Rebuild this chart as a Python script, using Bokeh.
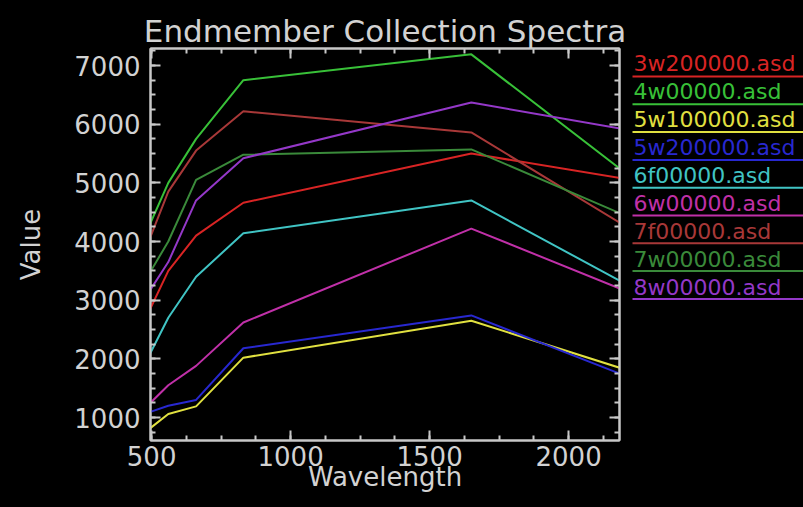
from bokeh.plotting import figure
from bokeh.models import Range1d, LinearAxis, SingleIntervalTicker, CustomJSTickFormatter
from bokeh.layouts import row
from bokeh.embed import file_html
from bokeh.resources import INLINE
from bokeh.core.properties import value

# ---- data ----
wavelengths = [485, 560, 660, 830, 1650, 2215]
names = ["3w200000.asd", "4w00000.asd", "5w100000.asd", "5w200000.asd",
         "6f00000.asd", "6w00000.asd", "7f00000.asd", "7w00000.asd", "8w00000.asd"]
s_3w200000 = [2750, 3500, 4100, 4660, 5500, 5060]
s_4w00000 = [4200, 5000, 5750, 6750, 7190, 5130]
s_5w100000 = [780, 1060, 1190, 2020, 2650, 1800]
s_5w200000 = [1080, 1200, 1300, 2180, 2740, 1690]
s_6f00000 = [2000, 2700, 3400, 4140, 4700, 3250]
s_6w00000 = [1200, 1550, 1880, 2620, 4220, 3140]
s_7f00000 = [3950, 4850, 5550, 6220, 5860, 4230]
s_7w00000 = [3400, 4000, 5050, 5480, 5570, 4420]
s_8w00000 = [3100, 3650, 4700, 5420, 6370, 5900]
series = [s_3w200000, s_4w00000, s_5w100000, s_5w200000, s_6f00000,
          s_6w00000, s_7f00000, s_7w00000, s_8w00000]
colors = ["#d82424", "#38c038", "#e0e040", "#2828d0", "#40c4c4",
          "#c030a8", "#a83838", "#3a8a3a", "#9438c8"]
x_limits = (496, 2183)
y_limits = (608, 7290)

FONT = "DejaVu Sans"
TXT = "#d2d2d2"
AX = "#c8c8c8"
BLACK = {"background-color": "black"}

TOTAL_W, TOTAL_H = 803, 507
FW, FH = 469, 392
BL, BT, BR, BB = 150, 48, 10, 67

p = figure(frame_width=FW, frame_height=FH,
           x_range=Range1d(*x_limits), y_range=Range1d(*y_limits),
           min_border_left=BL, min_border_right=BR, min_border_top=BT,
           min_border_bottom=BB, toolbar_location=None, output_backend="svg",
           background_fill_color="black", border_fill_color="black",
           outline_line_color=AX, outline_line_width=2,
           x_axis_label="Wavelength", y_axis_label="Value", styles=BLACK)
p.grid.visible = False

p.title.text = "Endmember Collection Spectra"
p.title.text_color = TXT
p.title.text_font = FONT
p.title.text_font_style = "normal"
p.title.text_font_size = "31px"
p.title.align = "center"
p.title.standoff = 0

for w, c in zip(series, colors):
    p.line(wavelengths, w, line_color=c, line_width=2)

p.xaxis.ticker = SingleIntervalTicker(interval=500, num_minor_ticks=4)
p.yaxis.ticker = SingleIntervalTicker(interval=1000, num_minor_ticks=4)


def style_axis(ax, labels=True):
    ax.axis_line_color = AX
    ax.axis_line_width = 2
    ax.major_tick_line_color = AX
    ax.minor_tick_line_color = AX
    ax.major_tick_line_width = 2
    ax.minor_tick_line_width = 2
    ax.major_tick_in = 10
    ax.major_tick_out = 0
    ax.minor_tick_in = 5
    ax.minor_tick_out = 0
    if labels:
        ax.major_label_text_color = TXT
        ax.major_label_text_font = FONT
        ax.major_label_text_font_size = "26px"
        ax.axis_label_text_color = TXT
        ax.axis_label_text_font = FONT
        ax.axis_label_text_font_size = "26px"
        ax.axis_label_text_font_style = "normal"
    else:
        ax.formatter = CustomJSTickFormatter(code="return '';")
        ax.major_label_standoff = 0


style_axis(p.xaxis[0])
style_axis(p.yaxis[0])
p.yaxis[0].major_label_standoff = 10
p.yaxis[0].axis_label_standoff = 25
p.xaxis[0].major_label_standoff = 5
p.xaxis[0].axis_label_standoff = -7

ra = LinearAxis(ticker=SingleIntervalTicker(interval=1000, num_minor_ticks=4))
ta = LinearAxis(ticker=SingleIntervalTicker(interval=500, num_minor_ticks=4))
style_axis(ra, labels=False)
style_axis(ta, labels=False)
p.add_layout(ra, "right")
p.add_layout(ta, "above")

# ---- legend panel: coloured names with underlines ----
MAIN_W = BL + FW + BR
LW = TOTAL_W - MAIN_W
q = figure(frame_width=LW, frame_height=FH,
           x_range=Range1d(MAIN_W, TOTAL_W), y_range=Range1d(BT + FH, BT),
           min_border_left=0, min_border_right=0, min_border_top=BT,
           min_border_bottom=BB, toolbar_location=None, output_backend="svg",
           background_fill_color="black", border_fill_color="black",
           outline_line_color=None, styles=BLACK)
q.axis.visible = False
q.grid.visible = False
n = len(names)
text_y = [63 + 28 * i for i in range(n)]
line_y = [76 + 27.8 * i for i in range(n)]
q.text(x=[MAIN_W + 4] * n, y=text_y, text=names, text_color=colors,
       text_font=value(FONT), text_font_size="22px", text_baseline="middle")
q.segment(x0=[MAIN_W + 3] * n, y0=line_y, x1=[TOTAL_W] * n, y1=line_y,
          line_color=colors, line_width=2)

layout = row(p, q, styles=BLACK)
open("out.html", "w").write(file_html(layout, INLINE))
